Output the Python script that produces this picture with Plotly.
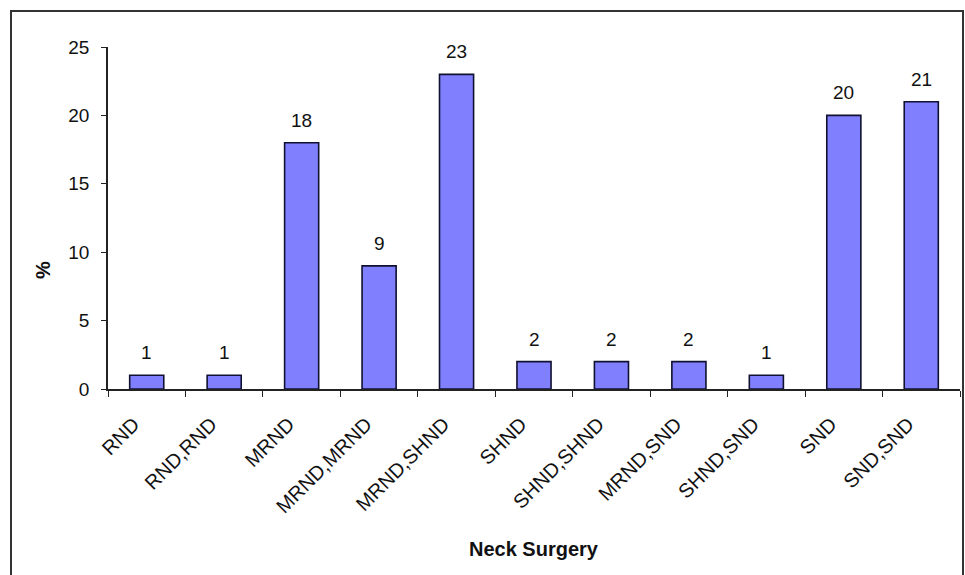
import plotly.graph_objects as go

categories = ["RND", "RND,RND", "MRND", "MRND,MRND", "MRND,SHND", "SHND",
              "SHND,SHND", "MRND,SND", "SHND,SND", "SND", "SND,SND"]
values = [1, 1, 18, 9, 23, 2, 2, 2, 1, 20, 21]
y_ticks = [0, 5, 10, 15, 20, 25]

W, H = 965, 575
L, R, T, B = 108, 5, 47, 186
pw, ph = W - L - R, H - T - B
FONT = "Liberation Sans, Arial"

fig = go.Figure(go.Bar(
    x=categories, y=values,
    marker=dict(color="#8080FF", line=dict(color="#101030", width=1.6)),
    width=0.44,
))

def px(x):
    return (x - L) / pw

def py(y):
    return (H - B - y) / ph

annotations = [dict(x=c, y=v, xref="x", yref="y", text=str(v), showarrow=False,
                    yanchor="bottom", yshift=10,
                    font=dict(family=FONT, size=19, color="#111"))
               for c, v in zip(categories, values)]
annotations.append(dict(x=px(534), y=py(549), xref="paper", yref="paper",
                        text="<b>Neck Surgery</b>", showarrow=False,
                        xanchor="center", yanchor="middle",
                        font=dict(family=FONT, size=20, color="#111")))
annotations.append(dict(x=px(43), y=py(270), xref="paper", yref="paper",
                        text="<b>%</b>", showarrow=False, textangle=-90,
                        xanchor="center", yanchor="middle",
                        font=dict(family=FONT, size=20, color="#111")))

fig.update_layout(
    width=W, height=H,
    margin=dict(l=L, r=R, t=T, b=B),
    paper_bgcolor="white", plot_bgcolor="white",
    font=dict(family=FONT, size=18, color="#111"),
    showlegend=False,
    xaxis=dict(
        tickangle=-45, tickson="boundaries", ticks="outside", ticklen=6,
        tickcolor="#222", showline=True, linecolor="#222", linewidth=1.5,
        tickfont=dict(size=20), showgrid=False, ticklabelstandoff=14,
        ticklabelshift=-13,
    ),
    yaxis=dict(
        range=[0, 25], tickvals=y_ticks, ticks="outside", ticklen=5,
        tickcolor="#222", showline=True, linecolor="#222", linewidth=1.5,
        showgrid=False, zeroline=False, tickfont=dict(size=19),
        ticklabelstandoff=8,
    ),
    annotations=annotations,
    shapes=[dict(type="rect", xref="paper", yref="paper",
                 x0=px(11), x1=px(963), y0=py(585), y1=py(11),
                 line=dict(color="#333", width=2), fillcolor="rgba(0,0,0,0)")],
)

fig.write_html("out.html")
